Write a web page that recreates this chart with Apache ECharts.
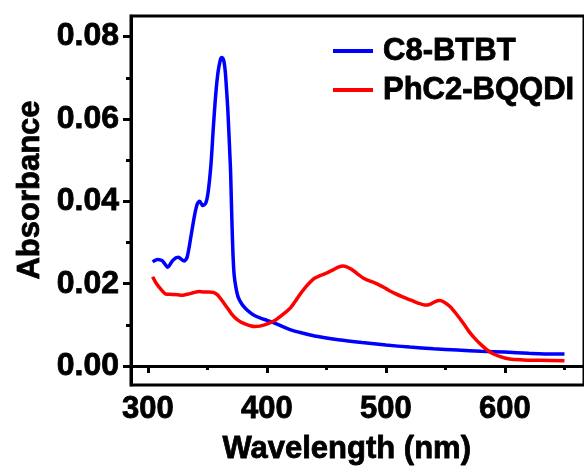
<!DOCTYPE html>
<html>
<head>
<meta charset="utf-8">
<script src="https://cdn.jsdelivr.net/npm/echarts@6/dist/echarts.min.js"></script>
<style>
  html, body { margin: 0; padding: 0; background: #fff; }
  #chart { width: 584px; height: 473px; }
</style>
</head>
<body>
<div id="chart"></div>
<script>
// UV-vis absorption spectra of the two films
const seriesNames = ['C8-BTBT', 'PhC2-BQQDI'];

const btbtWavelength = [304, 308, 312, 316.7, 321, 325.5, 330.5, 333, 336, 339, 341.5, 343.5, 346, 348.5, 350.5,
  353, 355, 357, 359, 361, 362, 363, 364, 365, 366, 367, 368, 369, 369.5, 370.5, 371.5, 372.5, 374, 376, 379, 382,
  386, 390, 395, 400, 405, 410, 420, 430, 440, 460, 480, 500, 520, 540, 560, 580, 600, 620, 640, 650];
const btbtAbsorbance = [0.0253, 0.0259, 0.0256, 0.0240, 0.0257, 0.0264, 0.0255, 0.0265, 0.0312, 0.0363, 0.0394,
  0.0400, 0.0390, 0.0395, 0.0420, 0.0490, 0.0580, 0.0660, 0.0715, 0.0745, 0.0749, 0.0747, 0.0738, 0.0715, 0.0675,
  0.0630, 0.0570, 0.0505, 0.0470, 0.0360, 0.0270, 0.0220, 0.0190, 0.0166, 0.0150, 0.0140,
  0.0130, 0.0122, 0.0116, 0.0111, 0.0106, 0.0100, 0.0088, 0.0080, 0.0073, 0.0064, 0.0057, 0.0051, 0.0046, 0.0042,
  0.0039, 0.0036, 0.0034, 0.0031, 0.0029, 0.0029];

const bqqdiWavelength = [304, 307, 311, 315, 320, 325, 329, 334, 338, 343, 347, 351, 355, 358, 361, 364, 368, 371,
  374, 378, 382, 386, 390, 394, 398, 402, 407, 411, 415, 420, 424, 428, 432, 436, 440, 445, 451, 456, 460, 464, 467,
  471, 476, 482, 488, 493, 500, 507, 514, 521, 527, 533, 537, 541, 545, 549, 554, 559, 565, 570, 576, 581, 585, 590,
  596, 604, 615, 630, 650];
const bqqdiAbsorbance = [0.0217, 0.0201, 0.0186, 0.0175, 0.0174, 0.0173, 0.0172, 0.0175, 0.0178, 0.0181, 0.0180,
  0.0180, 0.0179, 0.0174, 0.0164, 0.0152, 0.0136, 0.0124, 0.0115, 0.0107, 0.0102, 0.0098, 0.0096, 0.0097, 0.0100,
  0.0104, 0.0111, 0.0120, 0.0129, 0.0142, 0.0158, 0.0175, 0.0190, 0.0203, 0.0213, 0.0220, 0.0227, 0.0234, 0.0240,
  0.0243, 0.0241, 0.0235, 0.0224, 0.0212, 0.0205, 0.0199, 0.0188, 0.0177, 0.0168, 0.0160, 0.0153, 0.0148, 0.0150,
  0.0156, 0.0159, 0.0155, 0.0144, 0.0127, 0.0104, 0.0083, 0.0063, 0.0049, 0.0039, 0.0030, 0.0023, 0.0017, 0.0015,
  0.0014, 0.0013];

const xMajorTicks = [300, 400, 500, 600];
const xMinorTicks = [350, 450, 550, 650];
const yMajorTicks = [0, 0.02, 0.04, 0.06, 0.08];
const yMinorTicks = [0.01, 0.03, 0.05, 0.07];

const X_MIN = 285.8, X_MAX = 666.4;
const Y_MIN = -0.0046, Y_MAX = 0.085;

const FONT = '"Liberation Sans", Arial, Helvetica, sans-serif';
// a thin outline in the text colour gives the heavy look of the labels
const heavy = { textBorderColor: '#000', textBorderWidth: 0.8 };
const gridRect = { left: 131, top: 16, right: -4, bottom: 88 };

function pairs(xs, ys) { return xs.map((x, i) => [x, ys[i]]); }

const chart = echarts.init(document.getElementById('chart'), null, { renderer: 'canvas' });

chart.setOption({
  animation: false,
  backgroundColor: '#ffffff',
  grid: [
    Object.assign({ show: true, borderColor: '#000', borderWidth: 3, backgroundColor: 'transparent', containLabel: false }, gridRect),
    Object.assign({ show: false, containLabel: false }, gridRect)
  ],
  legend: {
    orient: 'vertical',
    left: 333,
    top: 30,
    padding: 0,
    itemWidth: 40,
    itemHeight: 4,
    itemGap: -3,
    icon: 'rect',
    data: seriesNames,
    textStyle: Object.assign({
      fontFamily: FONT,
      fontWeight: 'bold',
      fontSize: 31,
      lineHeight: 30,
      color: '#000',
      padding: [0, 0, 12, 5]
    }, heavy)
  },
  xAxis: [
    {
      type: 'value', gridIndex: 0, min: X_MIN, max: X_MAX,
      axisLine: { show: true, lineStyle: { color: '#000', width: 3 } },
      axisTick: { show: true, inside: false, length: 7, customValues: xMajorTicks, lineStyle: { color: '#000', width: 3 } },
      axisLabel: Object.assign({ show: true, customValues: xMajorTicks, margin: 9, color: '#000', fontFamily: FONT, fontWeight: 'bold', fontSize: 31 }, heavy),
      splitLine: { show: false }
    },
    {
      type: 'value', gridIndex: 1, min: X_MIN, max: X_MAX,
      axisLine: { show: false },
      axisTick: { show: true, inside: false, length: 4, customValues: xMinorTicks, lineStyle: { color: '#000', width: 3 } },
      axisLabel: { show: false },
      splitLine: { show: false }
    }
  ],
  yAxis: [
    {
      type: 'value', gridIndex: 0, min: Y_MIN, max: Y_MAX,
      axisLine: { show: true, lineStyle: { color: '#000', width: 3 } },
      axisTick: { show: true, inside: false, length: 8, customValues: yMajorTicks, lineStyle: { color: '#000', width: 3 } },
      axisLabel: Object.assign({
        show: true, customValues: yMajorTicks, margin: 12, color: '#000',
        fontFamily: FONT, fontWeight: 'bold', fontSize: 32,
        formatter: v => v.toFixed(2)
      }, heavy),
      splitLine: { show: false }
    },
    {
      type: 'value', gridIndex: 1, min: Y_MIN, max: Y_MAX,
      axisLine: { show: false },
      axisTick: { show: true, inside: false, length: 5, customValues: yMinorTicks, lineStyle: { color: '#000', width: 3 } },
      axisLabel: { show: false },
      splitLine: { show: false }
    }
  ],
  graphic: [
    {
      type: 'text', x: 346.7, y: 449,
      style: Object.assign({ text: 'Wavelength (nm)', font: 'bold 31px ' + FONT, fill: '#000', stroke: '#000', lineWidth: 0.8, textAlign: 'center', textVerticalAlign: 'middle' })
    },
    {
      type: 'text', x: 30, y: 190, rotation: Math.PI / 2,
      style: Object.assign({ text: 'Absorbance', font: 'bold 31px ' + FONT, fill: '#000', stroke: '#000', lineWidth: 0.8, textAlign: 'center', textVerticalAlign: 'middle' })
    }
  ],
  series: [
    {
      name: seriesNames[0], type: 'line', xAxisIndex: 0, yAxisIndex: 0,
      data: pairs(btbtWavelength, btbtAbsorbance),
      showSymbol: false, symbol: 'none', smooth: 0.25,
      itemStyle: { color: '#0000ff' },
      lineStyle: { color: '#0000ff', width: 3.5 }
    },
    {
      name: seriesNames[1], type: 'line', xAxisIndex: 0, yAxisIndex: 0,
      data: pairs(bqqdiWavelength, bqqdiAbsorbance),
      showSymbol: false, symbol: 'none', smooth: 0.25,
      itemStyle: { color: '#ff0000' },
      lineStyle: { color: '#ff0000', width: 3.5 }
    }
  ]
});
</script>
</body>
</html>
